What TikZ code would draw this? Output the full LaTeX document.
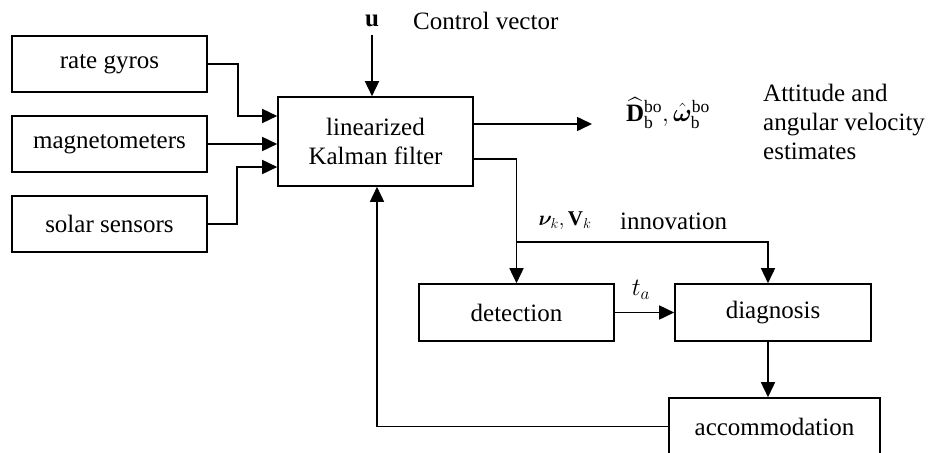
\documentclass[tikz,border=0pt]{standalone}
\usepackage{amsmath,bm}
\usepackage{fontspec}
\setmainfont{Liberation Serif}
\usetikzlibrary{arrows.meta,calc}
\begin{document}
\begin{tikzpicture}[x=1pt,y=-1pt,
  every node/.style={font=\fontsize{25}{29}\selectfont},
  blk/.style={draw,line width=1.6pt,minimum height=56pt,inner sep=0pt},
  arr/.style={line width=1.6pt,-{Triangle[length=15pt,width=14pt]}}]
\useasboundingbox (0,0) rectangle (928,452);
\clip (0,0) rectangle (928,452);
% blocks
\node[blk,minimum width=195pt] (rg) at (109.5,64) {rate gyros};
\node[blk,minimum width=195pt] (mag) at (109.5,144) {magnetometers};
\node[blk,minimum width=195pt] (sol) at (109.5,224) {solar sensors};
\node[blk,minimum width=195pt,minimum height=89pt,align=center] (kf) at (375.5,141.5) {linearized\\Kalman filter};
\node[blk,minimum width=195pt,minimum height=57pt] (det) at (516.5,312.5) {detection};
\node[blk,minimum width=196pt,minimum height=57pt] (dia) at (773,312.5) {diagnosis};
\node[blk,minimum width=211pt,minimum height=57pt] (acc) at (774.5,426.5) {accommodation};
% helper coordinates
\coordinate (ustart) at (372,35);
\coordinate (outend) at (592,124);
\coordinate (br) at (516.5,242);
\coordinate (dx) at (768,0);
\coordinate (fbx) at (377,0);
% labels
\node (ulab) at (372,21) {$\mathbf{u}$};
\node[anchor=west,inner sep=0pt] (cv) at (413,21) {Control vector};
\node (est) at (668,113) {$\widehat{\mathbf{D}}_{\mathrm{b}}^{\mathrm{bo}},\hat{\bm{\omega}}_{\mathrm{b}}^{\mathrm{bo}}$};
\node[anchor=west,align=left,inner sep=0pt] (att) at (763,122) {Attitude and\\angular velocity\\estimates};
\node[font=\fontsize{21}{25}\selectfont] (nu) at (565,221) {$\bm{\nu}_k,\mathbf{V}_k$};
\node[anchor=west,inner sep=0pt] (inn) at (620,221) {innovation};
\node (ta) at (641,290) {$t_a$};
% connectors
\draw[arr] (ustart) -- (ustart |- kf.north);
\draw[arr] (rg.east) -- ++(30,0) |- ($(kf.west)+(0,-25.5)$);
\draw[arr] (mag.east) -- (mag.east -| kf.west);
\draw[arr] (sol.east) -- ++(29,0) |- ($(kf.west)+(0,25.5)$);
\draw[arr] ($(kf.east)+(0,-17.5)$) -- (outend);
\draw[arr] ($(kf.east)+(0,17.5)$) -| (det.north);
\draw[arr] (br) -| (dx |- dia.north);
\draw[arr] (det.east) -- (dia.west);
\draw[arr] (dx |- dia.south) -- (dx |- acc.north);
\draw[arr] (acc.west) -| (fbx |- kf.south);
\end{tikzpicture}
\end{document}
